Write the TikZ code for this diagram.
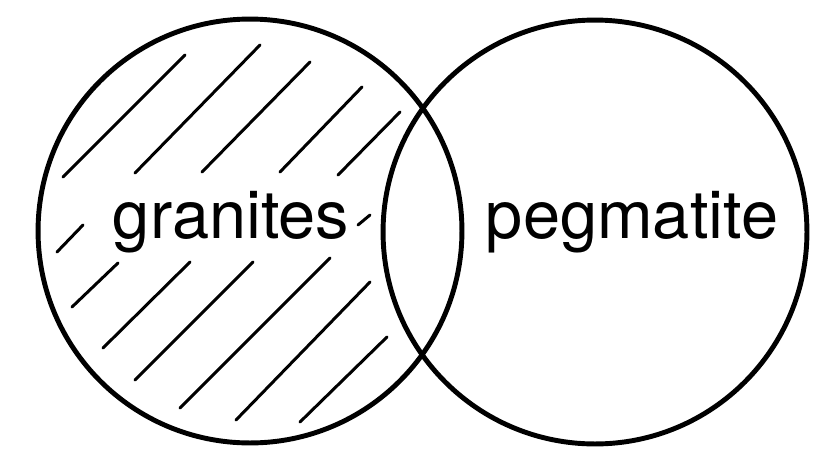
\documentclass[tikz,border=0pt]{standalone}
\usepackage{fontspec}
\setmainfont{TeX Gyre Heros}
\tikzset{
  rim/.style={line width=2.8pt},
  hatch/.style={line width=1.7pt, line cap=round},
  word/.style={anchor=base, inner sep=0pt, font=\fontsize{38}{40}\selectfont}
}
\begin{document}
\begin{tikzpicture}[x=0.02cm, y=-0.02cm]
    \useasboundingbox (0,0) rectangle (814,450);
	\coordinate (L) at (250,231);
	\coordinate (R) at (595,232);
    \draw[rim] (L) circle (4.24cm);
    \draw[rim] (R) circle (4.24cm);

    % Hatching of the granites part, stroke by stroke
    \foreach \xa/\ya/\xb/\yb in {63/177/185/55, 135/173/260/45, 202/172/310/62,
        280/172/362/87, 338/175/400/112, 57/252/83/225, 358/225/370/215,
        72/307/118/263, 103/348/190/262, 135/380/253/262, 180/408/330/258,
        236/420/370/282, 300/422/387/337}
        \draw[hatch] (\xa,\ya)--(\xb,\yb);

    \node[word] (granites) at (231,238) {granites};
    \node[word] (pegmatite) at (632,238) {pegmatite};
\end{tikzpicture}
\end{document}
